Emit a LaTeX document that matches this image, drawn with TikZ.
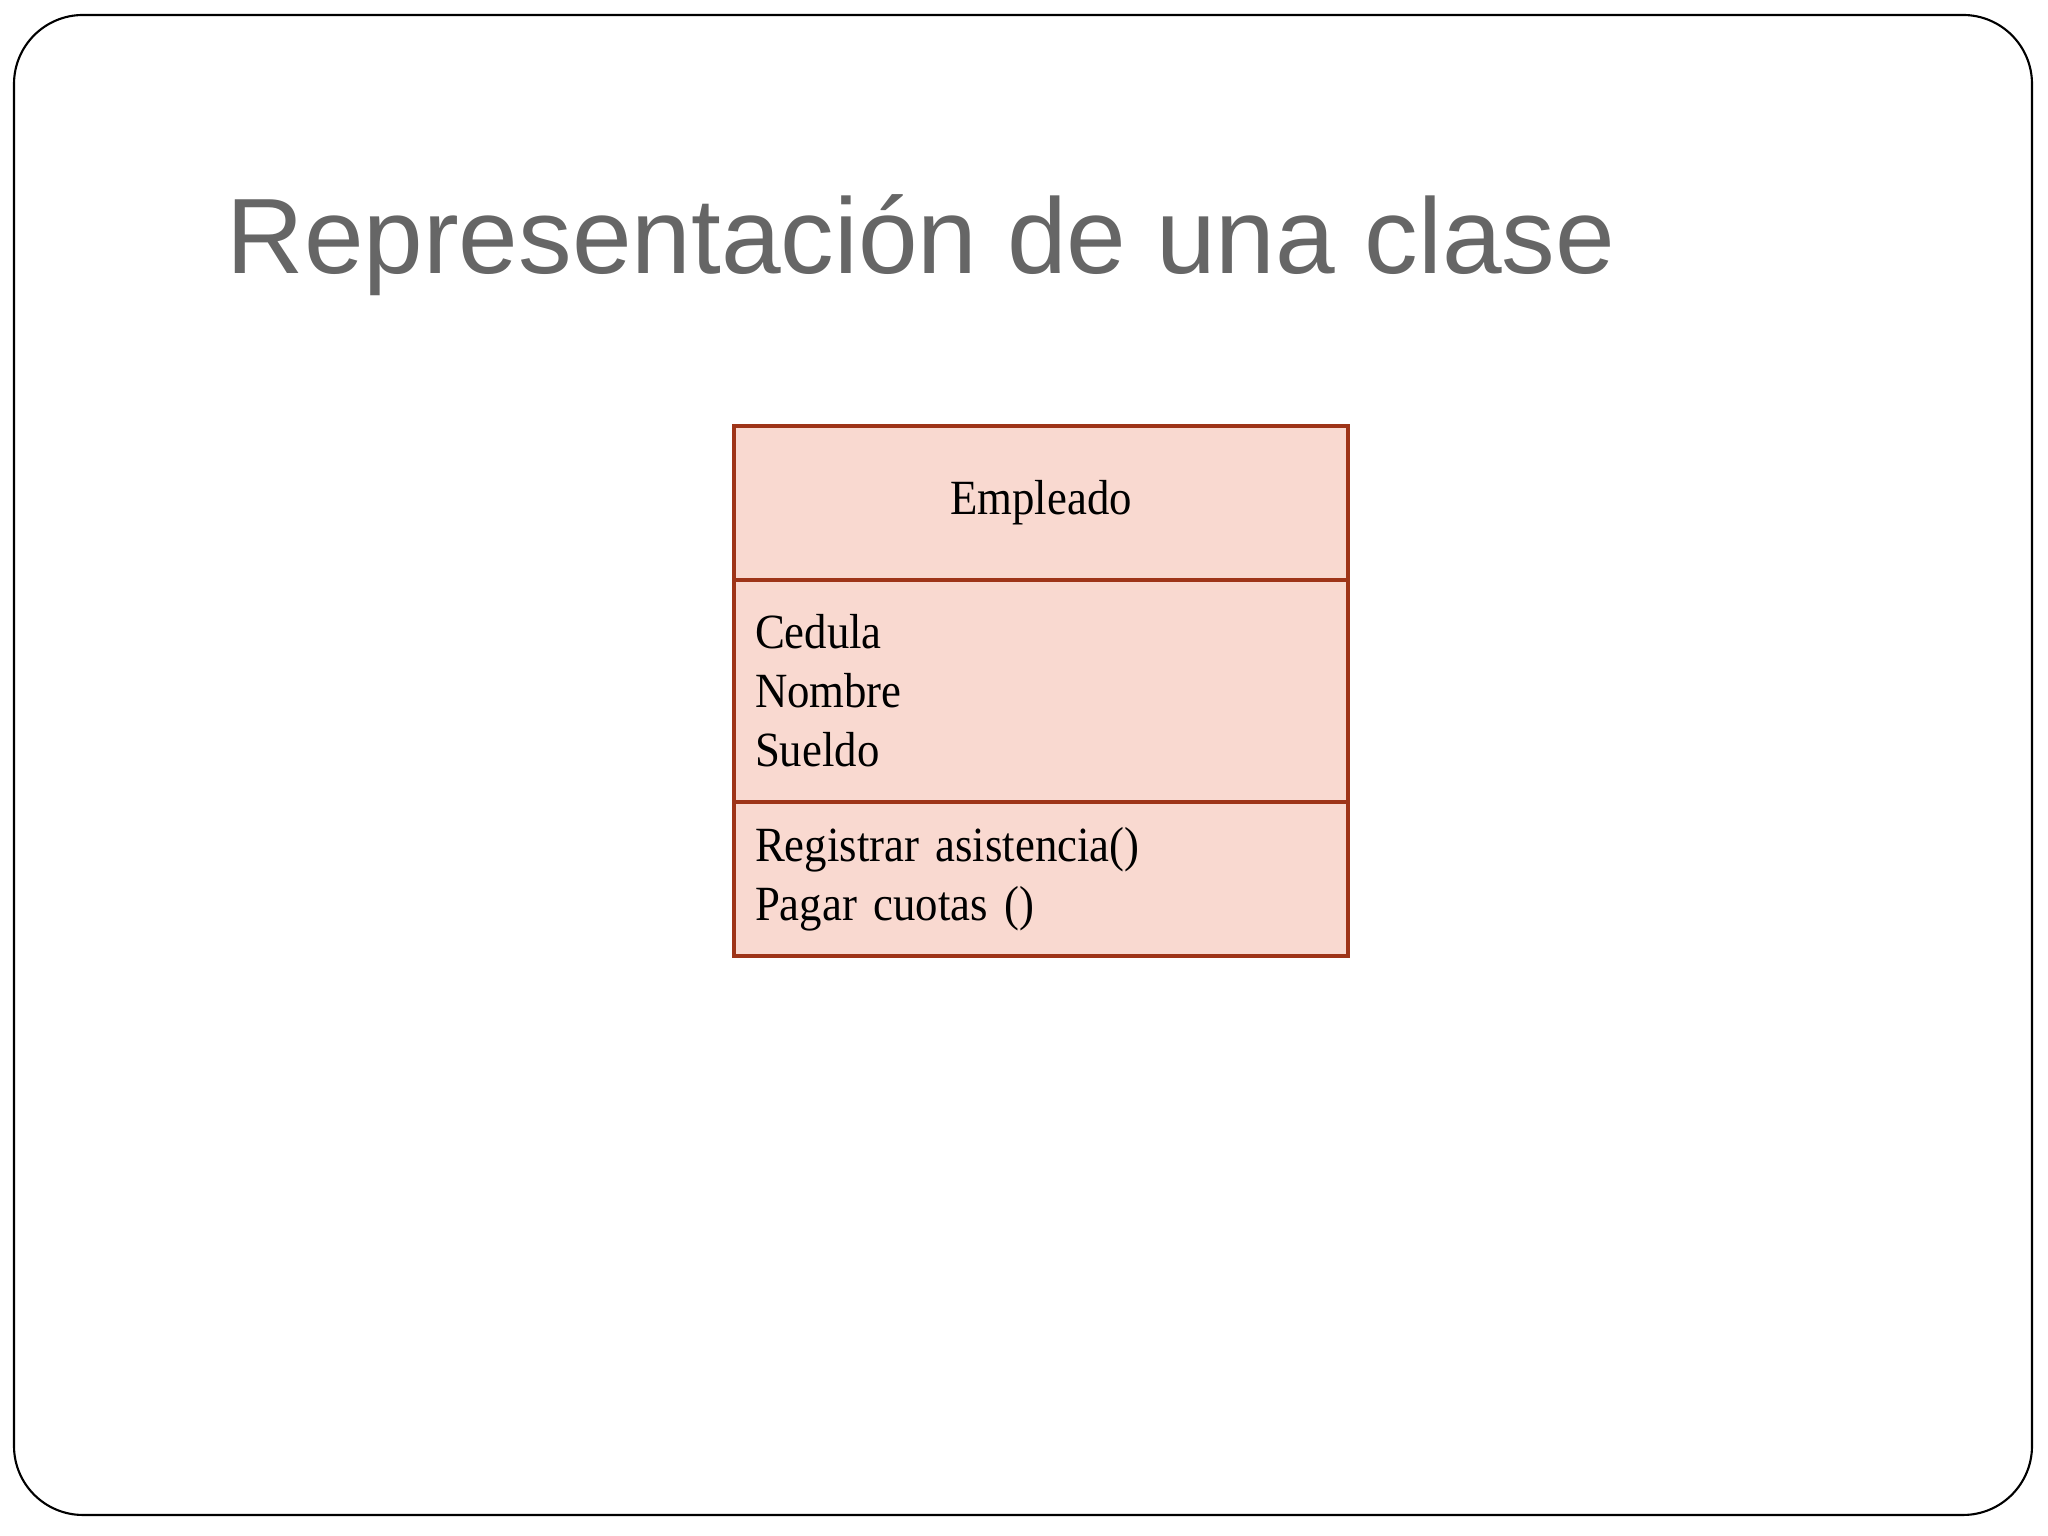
\documentclass[tikz,border=0pt]{standalone}
\usepackage{fontspec}
\setmainfont[FakeStretch=0.91]{Liberation Serif}
\newfontfamily\titlefont{Liberation Sans}
\usetikzlibrary{positioning}
\definecolor{titlegray}{RGB}{102,102,102}
\definecolor{classfill}{RGB}{249,217,208}
\definecolor{classline}{RGB}{158,52,24}
\tikzset{
  compart/.style={draw=classline, fill=classfill, line width=1.1pt,
    minimum width=6.14cm, inner xsep=0.21cm, inner ysep=0pt, outer sep=0pt,
    text width=5.72cm, font=\fontsize{14}{16.8}\selectfont},
}
\begin{document}
\begin{tikzpicture}
   \useasboundingbox (0,0) rectangle (20.48,15.36);
   % slide frame
   \draw[line width=0.6pt, rounded corners=0.69cm] (0.14,15.21) rectangle (20.32,0.21);
   \node[anchor=base west, inner sep=0, text=titlegray, font=\titlefont\fontsize{30.5}{36}\selectfont]
      (title) at (2.26,12.62) {Representación de una clase};
   % class box
   \node[compart, anchor=north west, minimum height=1.54cm, align=center] (cname) at (7.34,11.10) {Empleado};
   \node[compart, below=0pt of cname, minimum height=2.22cm, align=left] (cattr) {Cedula\\Nombre\\Sueldo};
   \node[compart, below=0pt of cattr, minimum height=1.54cm, align=left] (cops) {Registrar asistencia()\\Pagar cuotas ()};
 \end{tikzpicture}
\end{document}
